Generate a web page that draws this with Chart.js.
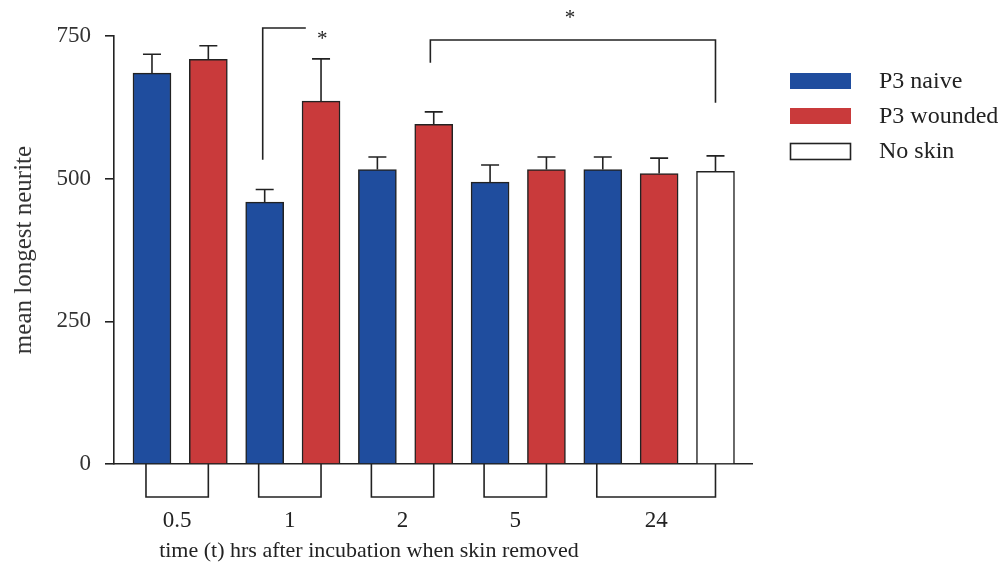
<!DOCTYPE html>
<html>
<head>
<meta charset="utf-8">
<script src="https://cdn.jsdelivr.net/npm/chart.js@4"></script>
<style>
html,body{margin:0;padding:0;background:#fff;}
#wrap{width:1007px;height:577px;}
</style>
</head>
<body>
<div id="wrap"><canvas id="chart"></canvas></div>
<script>
// time groups (hrs) and the bars in each group
const groups = ["0.5", "1", "2", "5", "24"];
const naive = [685, 459, 516, 494, 516];
const naiveErr = [33, 22, 22, 30, 22];
const wounded = [709, 636, 595, 516, 509];
const woundedErr = [24, 74, 22, 22, 27];
const noSkin = [513];
const noSkinErr = [27];
const yTicks = [0, 250, 500, 750];

// bar slots: naive 0,2,4,6,8 / wounded 1,3,5,7,9 / no skin 10
const naiveX = [0, 2, 4, 6, 8];
const woundedX = [1, 3, 5, 7, 9];
const noSkinX = [10];
const groupSpan = [[0, 1], [2, 3], [4, 5], [6, 7], [8, 10]];

// significance brackets (slot / value coords)
const sigBrackets = [
  {x1: 1.965, x2: 2.73, top: 764, leftEnd: 533, rightEnd: null, starX: 3.02, starY: 753},
  {x1: 4.94, x2: 10.0, top: 743, leftEnd: 703, rightEnd: 633, starX: 7.42, starY: 790}
];

const BLUE = "#1f4d9e";
const RED = "#c93a3b";
const INK = "#222";
const FONT = "'Liberation Serif', 'Times New Roman', serif";

const toXY = (xs, ys) => xs.map((x, i) => ({x: x, y: ys[i]}));

const extras = {
  id: "extras",
  afterDatasetsDraw(chart) {
    const ctx = chart.ctx;
    const xs = chart.scales.x, ys = chart.scales.y;
    const errs = [naiveErr, woundedErr, noSkinErr];
    ctx.save();
    ctx.strokeStyle = INK;
    ctx.lineWidth = 1.6;
    // error bars (upper only)
    chart.data.datasets.forEach((ds, di) => {
      const meta = chart.getDatasetMeta(di);
      meta.data.forEach((el, i) => {
        const v = ds.data[i].y + errs[di][i];
        const yt = ys.getPixelForValue(v);
        ctx.beginPath();
        ctx.moveTo(el.x, el.y);
        ctx.lineTo(el.x, yt);
        ctx.moveTo(el.x - 9, yt);
        ctx.lineTo(el.x + 9, yt);
        ctx.stroke();
      });
    });

    // group boxes under the axis + labels
    const base = ys.getPixelForValue(0);
    ctx.fillStyle = INK;
    ctx.font = "23px " + FONT;
    ctx.textAlign = "center";
    ctx.textBaseline = "middle";
    groupSpan.forEach((g, i) => {
      const a = xs.getPixelForValue(g[0]) - 6;
      const b = xs.getPixelForValue(g[1]);
      ctx.beginPath();
      ctx.moveTo(a, base);
      ctx.lineTo(a, base + 33);
      ctx.lineTo(b, base + 33);
      ctx.lineTo(b, base);
      ctx.stroke();
      ctx.fillText(groups[i], (a + b) / 2, base + 57);
    });
    ctx.font = "22px " + FONT;
    ctx.fillText("time (t) hrs after incubation when skin removed",
      (chart.chartArea.left + chart.chartArea.right) / 2 - 64, base + 87);

    // significance brackets
    sigBrackets.forEach(s => {
      const xa = xs.getPixelForValue(s.x1), xb = xs.getPixelForValue(s.x2);
      const yt = ys.getPixelForValue(s.top);
      ctx.beginPath();
      ctx.moveTo(xa, ys.getPixelForValue(s.leftEnd));
      ctx.lineTo(xa, yt);
      ctx.lineTo(xb, yt);
      if (s.rightEnd !== null) ctx.lineTo(xb, ys.getPixelForValue(s.rightEnd));
      ctx.stroke();
      ctx.font = "21px " + FONT;
      ctx.fillText("*", xs.getPixelForValue(s.starX), ys.getPixelForValue(s.starY) + 5);
    });

    // legend
    const items = [["P3 naive", BLUE], ["P3 wounded", RED], ["No skin", "#fff"]];
    ctx.font = "24px " + FONT;
    ctx.textAlign = "left";
    items.forEach((it, i) => {
      const y = 73 + i * 35;
      ctx.fillStyle = it[1];
      ctx.fillRect(790, y, 61, 16);
      if (i === 2) {
        ctx.lineWidth = 1.6;
        ctx.strokeRect(790.5, y + 0.5, 60, 16);
      }
      ctx.fillStyle = INK;
      ctx.fillText(it[0], 879, y + 9);
    });
    ctx.restore();
  }
};

new Chart(document.getElementById("chart"), {
  type: "bar",
  data: {
    datasets: [
      {label: "P3 naive", data: toXY(naiveX, naive), backgroundColor: BLUE},
      {label: "P3 wounded", data: toXY(woundedX, wounded), backgroundColor: RED},
      {label: "No skin", data: toXY(noSkinX, noSkin), backgroundColor: "#fff"}
    ]
  },
  options: {
    responsive: true,
    maintainAspectRatio: false,
    animation: false,
    layout: {padding: {left: 0, top: 36, right: 255, bottom: 113}},
    datasets: {
      bar: {
        barThickness: 38,
        grouped: false,
        borderColor: INK,
        borderWidth: 1.5,
        borderSkipped: "bottom"
      }
    },
    plugins: {
      legend: {display: false},
      tooltip: {enabled: false}
    },
    scales: {
      x: {
        type: "linear",
        offset: false,
        bounds: "data",
        min: -0.674,
        max: 10.648,
        ticks: {display: false},
        grid: {display: false, drawTicks: false, offset: false},
        border: {display: true, color: INK, width: 1.6},
        afterFit: s => { s.height = 0; }
      },
      y: {
        min: 0,
        max: 750,
        afterBuildTicks: s => { s.ticks = yTicks.map(v => ({value: v})); },
        ticks: {
          color: "#333",
          padding: 14,
          font: {family: FONT, size: 23}
        },
        grid: {drawOnChartArea: false, drawTicks: true, tickLength: 9, color: INK, lineWidth: 1.6},
        border: {display: true, color: INK, width: 1.6},
        title: {
          display: true,
          text: "mean longest neurite",
          color: "#333",
          font: {family: FONT, size: 25},
          padding: {top: 9, bottom: 0}
        },
        afterFit: s => { s.width = 114; }
      }
    }
  },
  plugins: [extras]
});
</script>
</body>
</html>
